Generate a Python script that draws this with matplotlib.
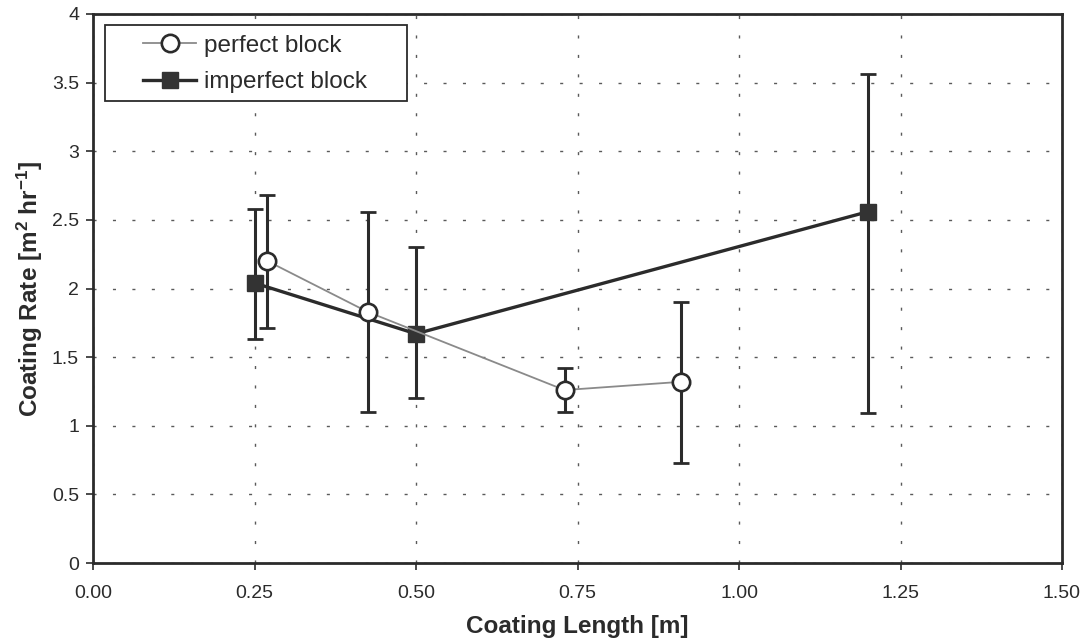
import matplotlib
matplotlib.use("Agg")
import matplotlib.pyplot as plt
from matplotlib.patches import Rectangle

plt.rcParams["font.family"] = ["Liberation Sans", "DejaVu Sans"]
plt.rcParams["mathtext.fontset"] = "custom"
plt.rcParams["mathtext.rm"] = "Liberation Sans:bold"
plt.rcParams["mathtext.bf"] = "Liberation Sans:bold"
plt.rcParams["mathtext.default"] = "bf"

# Perfect block measurements
perfect_x = [0.27, 0.425, 0.73, 0.91]
perfect_y = [2.20, 1.83, 1.26, 1.32]
perfect_lo = [1.71, 1.10, 1.10, 0.73]
perfect_hi = [2.68, 2.56, 1.42, 1.90]

# Imperfect block measurements
imperfect_x = [0.25, 0.50, 1.20]
imperfect_y = [2.04, 1.67, 2.56]
imperfect_lo = [1.63, 1.20, 1.09]
imperfect_hi = [2.58, 2.30, 3.56]

x_ticks = [0.0, 0.25, 0.5, 0.75, 1.0, 1.25, 1.5]
x_tick_labels = ["0.00", "0.25", "0.50", "0.75", "1.00", "1.25", "1.50"]
y_ticks = [0, 0.5, 1, 1.5, 2, 2.5, 3, 3.5, 4]
y_tick_labels = ["0", "0.5", "1", "1.5", "2", "2.5", "3", "3.5", "4"]

W, H = 1082, 644
fig = plt.figure(figsize=(W / 100, H / 100), dpi=100)
ax = fig.add_axes([93 / W, 1 - 563 / H, (1062 - 93) / W, (563 - 14) / H])

ink = "#2b2b2b"

def yerr(y, lo, hi):
    return [[v - l for v, l in zip(y, lo)], [h - v for v, h in zip(y, hi)]]

ax.errorbar(imperfect_x, imperfect_y, yerr=yerr(imperfect_y, imperfect_lo, imperfect_hi),
            fmt="none", ecolor=ink, elinewidth=2.2, capsize=6, capthick=2.0, zorder=3)
ax.errorbar(perfect_x, perfect_y, yerr=yerr(perfect_y, perfect_lo, perfect_hi),
            fmt="none", ecolor=ink, elinewidth=2.2, capsize=6, capthick=2.0, zorder=3)

ax.plot(perfect_x, perfect_y, color="#8a8a8a", lw=1.3, marker="o", markersize=12.5,
        markerfacecolor="white", markeredgecolor=ink, markeredgewidth=1.9,
        label="perfect block", zorder=5)
ax.plot(imperfect_x, imperfect_y, color=ink, lw=2.4, marker="s", markersize=11,
        markerfacecolor="#333333", markeredgecolor="#333333",
        label="imperfect block", zorder=4)

ax.set_xlim(0, 1.5)
ax.set_ylim(0, 4)
ax.set_xticks(x_ticks)
ax.set_xticklabels(x_tick_labels)
ax.set_yticks(y_ticks)
ax.set_yticklabels(y_tick_labels)
ax.tick_params(axis="both", direction="out", length=5, width=1.2, colors=ink,
               labelsize=14, labelcolor=ink)
ax.tick_params(axis="x", pad=11)
ax.tick_params(axis="y", pad=5)

ax.grid(True, color="#5a5a5a", linestyle=(0, (2.2, 11.8)), linewidth=1.0)
ax.set_axisbelow(True)
for s in ax.spines.values():
    s.set_color(ink)
    s.set_linewidth(2.0)

ax.set_xlabel("Coating Length [m]", fontsize=17.5, fontweight="bold", color=ink, labelpad=9)
ax.set_ylabel(r"Coating Rate [m$^{2}$ hr$^{-1}$]", fontsize=17.5, fontweight="bold",
              color=ink, labelpad=5)

# Legend box with frame drawn separately
fig.patches.append(Rectangle((105 / W, 1 - 101 / H), (407 - 105) / W, (101 - 25) / H,
                             transform=fig.transFigure, fill=True, facecolor="white",
                             edgecolor=ink, linewidth=1.3, zorder=10))
leg = fig.legend(loc="center left", bbox_to_anchor=(143 / W, 1 - 64 / H), frameon=False,
                 fontsize=17.5, handlelength=2.2, handletextpad=0.3, labelspacing=0.6,
                 borderpad=0, borderaxespad=0)
leg.set_zorder(11)
for t in leg.get_texts():
    t.set_color(ink)

fig.savefig("out.png", dpi=100)
